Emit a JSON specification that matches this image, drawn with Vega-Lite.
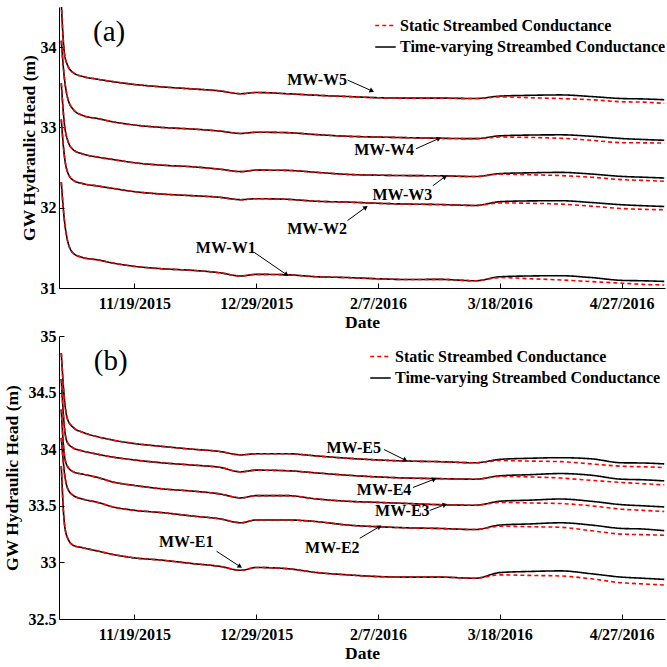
{
  "$schema": "https://vega.github.io/schema/vega-lite/v6.json",
  "padding": {"left": 3, "top": 7, "right": 0, "bottom": 0},
  "spacing": -3,
  "background": "white",
  "datasets": {
    "a": [
      {"w":"W5","d":"2015-10-26","T":34.55,"S":34.55},{"w":"W5","d":"2015-10-27","T":33.93,"S":33.93},{"w":"W5","d":"2015-10-28","T":33.78,"S":33.78},{"w":"W5","d":"2015-10-30","T":33.68,"S":33.68},{"w":"W5","d":"2015-11-02","T":33.635,"S":33.635},{"w":"W5","d":"2015-11-07","T":33.6,"S":33.6},{"w":"W5","d":"2015-11-12","T":33.57,"S":33.57},{"w":"W5","d":"2015-11-19","T":33.535,"S":33.535},{"w":"W5","d":"2015-11-28","T":33.505,"S":33.505},{"w":"W5","d":"2015-12-08","T":33.48,"S":33.48},{"w":"W5","d":"2015-12-17","T":33.455,"S":33.455},{"w":"W5","d":"2015-12-24","T":33.42,"S":33.42},{"w":"W5","d":"2015-12-29","T":33.435,"S":33.435},{"w":"W5","d":"2016-01-08","T":33.42,"S":33.42},{"w":"W5","d":"2016-01-18","T":33.4,"S":33.4},{"w":"W5","d":"2016-01-28","T":33.385,"S":33.385},{"w":"W5","d":"2016-02-07","T":33.37,"S":33.37},{"w":"W5","d":"2016-02-17","T":33.365,"S":33.365},{"w":"W5","d":"2016-02-27","T":33.365,"S":33.365},{"w":"W5","d":"2016-03-10","T":33.36,"S":33.36},{"w":"W5","d":"2016-03-18","T":33.39,"S":33.38},{"w":"W5","d":"2016-03-28","T":33.4,"S":33.37},{"w":"W5","d":"2016-04-07","T":33.405,"S":33.36},{"w":"W5","d":"2016-04-17","T":33.385,"S":33.345},{"w":"W5","d":"2016-04-27","T":33.36,"S":33.32},{"w":"W5","d":"2016-05-04","T":33.355,"S":33.315},{"w":"W5","d":"2016-05-11","T":33.345,"S":33.3},
      {"w":"W4","d":"2015-10-26","T":34.08,"S":34.08},{"w":"W4","d":"2015-10-27","T":33.62,"S":33.62},{"w":"W4","d":"2015-10-28","T":33.38,"S":33.38},{"w":"W4","d":"2015-10-30","T":33.22,"S":33.22},{"w":"W4","d":"2015-11-02","T":33.15,"S":33.15},{"w":"W4","d":"2015-11-07","T":33.11,"S":33.11},{"w":"W4","d":"2015-11-12","T":33.07,"S":33.07},{"w":"W4","d":"2015-11-19","T":33.03,"S":33.03},{"w":"W4","d":"2015-11-28","T":33.0,"S":33.0},{"w":"W4","d":"2015-12-08","T":32.98,"S":32.98},{"w":"W4","d":"2015-12-17","T":32.955,"S":32.955},{"w":"W4","d":"2015-12-24","T":32.925,"S":32.925},{"w":"W4","d":"2015-12-29","T":32.94,"S":32.94},{"w":"W4","d":"2016-01-08","T":32.935,"S":32.935},{"w":"W4","d":"2016-01-18","T":32.91,"S":32.91},{"w":"W4","d":"2016-01-28","T":32.89,"S":32.89},{"w":"W4","d":"2016-02-07","T":32.88,"S":32.88},{"w":"W4","d":"2016-02-17","T":32.872,"S":32.872},{"w":"W4","d":"2016-02-27","T":32.865,"S":32.865},{"w":"W4","d":"2016-03-10","T":32.86,"S":32.86},{"w":"W4","d":"2016-03-18","T":32.895,"S":32.88},{"w":"W4","d":"2016-03-28","T":32.905,"S":32.875},{"w":"W4","d":"2016-04-07","T":32.908,"S":32.865},{"w":"W4","d":"2016-04-17","T":32.89,"S":32.84},{"w":"W4","d":"2016-04-27","T":32.862,"S":32.81},{"w":"W4","d":"2016-05-04","T":32.85,"S":32.808},{"w":"W4","d":"2016-05-11","T":32.84,"S":32.805},
      {"w":"W3","d":"2015-10-26","T":33.55,"S":33.55},{"w":"W3","d":"2015-10-27","T":33.05,"S":33.05},{"w":"W3","d":"2015-10-28","T":32.85,"S":32.85},{"w":"W3","d":"2015-10-30","T":32.72,"S":32.72},{"w":"W3","d":"2015-11-02","T":32.67,"S":32.67},{"w":"W3","d":"2015-11-07","T":32.63,"S":32.63},{"w":"W3","d":"2015-11-12","T":32.6,"S":32.6},{"w":"W3","d":"2015-11-19","T":32.56,"S":32.56},{"w":"W3","d":"2015-11-28","T":32.53,"S":32.53},{"w":"W3","d":"2015-12-08","T":32.51,"S":32.51},{"w":"W3","d":"2015-12-17","T":32.48,"S":32.48},{"w":"W3","d":"2015-12-24","T":32.45,"S":32.45},{"w":"W3","d":"2015-12-29","T":32.468,"S":32.468},{"w":"W3","d":"2016-01-08","T":32.465,"S":32.465},{"w":"W3","d":"2016-01-18","T":32.44,"S":32.44},{"w":"W3","d":"2016-01-28","T":32.415,"S":32.415},{"w":"W3","d":"2016-02-07","T":32.405,"S":32.405},{"w":"W3","d":"2016-02-17","T":32.4,"S":32.4},{"w":"W3","d":"2016-02-27","T":32.398,"S":32.398},{"w":"W3","d":"2016-03-10","T":32.388,"S":32.388},{"w":"W3","d":"2016-03-18","T":32.425,"S":32.418},{"w":"W3","d":"2016-03-28","T":32.435,"S":32.41},{"w":"W3","d":"2016-04-07","T":32.44,"S":32.4},{"w":"W3","d":"2016-04-17","T":32.42,"S":32.38},{"w":"W3","d":"2016-04-27","T":32.39,"S":32.35},{"w":"W3","d":"2016-05-04","T":32.38,"S":32.34},{"w":"W3","d":"2016-05-11","T":32.37,"S":32.33},
      {"w":"W2","d":"2015-10-26","T":33.1,"S":33.1},{"w":"W2","d":"2015-10-27","T":32.65,"S":32.65},{"w":"W2","d":"2015-10-28","T":32.45,"S":32.45},{"w":"W2","d":"2015-10-30","T":32.34,"S":32.34},{"w":"W2","d":"2015-11-02","T":32.3,"S":32.3},{"w":"W2","d":"2015-11-07","T":32.27,"S":32.27},{"w":"W2","d":"2015-11-12","T":32.24,"S":32.24},{"w":"W2","d":"2015-11-19","T":32.2,"S":32.2},{"w":"W2","d":"2015-11-28","T":32.17,"S":32.17},{"w":"W2","d":"2015-12-08","T":32.15,"S":32.15},{"w":"W2","d":"2015-12-17","T":32.13,"S":32.13},{"w":"W2","d":"2015-12-24","T":32.1,"S":32.1},{"w":"W2","d":"2015-12-29","T":32.112,"S":32.112},{"w":"W2","d":"2016-01-08","T":32.105,"S":32.105},{"w":"W2","d":"2016-01-18","T":32.08,"S":32.08},{"w":"W2","d":"2016-01-28","T":32.07,"S":32.07},{"w":"W2","d":"2016-02-07","T":32.055,"S":32.055},{"w":"W2","d":"2016-02-17","T":32.045,"S":32.045},{"w":"W2","d":"2016-02-27","T":32.04,"S":32.04},{"w":"W2","d":"2016-03-10","T":32.028,"S":32.028},{"w":"W2","d":"2016-03-18","T":32.075,"S":32.06},{"w":"W2","d":"2016-03-28","T":32.085,"S":32.055},{"w":"W2","d":"2016-04-07","T":32.087,"S":32.045},{"w":"W2","d":"2016-04-17","T":32.065,"S":32.02},{"w":"W2","d":"2016-04-27","T":32.037,"S":31.99},{"w":"W2","d":"2016-05-04","T":32.025,"S":31.98},{"w":"W2","d":"2016-05-11","T":32.015,"S":31.975},
      {"w":"W1","d":"2015-10-26","T":32.32,"S":32.32},{"w":"W1","d":"2015-10-27","T":31.85,"S":31.85},{"w":"W1","d":"2015-10-28","T":31.6,"S":31.6},{"w":"W1","d":"2015-10-30","T":31.43,"S":31.43},{"w":"W1","d":"2015-11-02","T":31.38,"S":31.38},{"w":"W1","d":"2015-11-07","T":31.35,"S":31.35},{"w":"W1","d":"2015-11-12","T":31.31,"S":31.31},{"w":"W1","d":"2015-11-19","T":31.27,"S":31.27},{"w":"W1","d":"2015-11-28","T":31.24,"S":31.24},{"w":"W1","d":"2015-12-08","T":31.22,"S":31.22},{"w":"W1","d":"2015-12-17","T":31.19,"S":31.19},{"w":"W1","d":"2015-12-24","T":31.15,"S":31.15},{"w":"W1","d":"2015-12-29","T":31.17,"S":31.17},{"w":"W1","d":"2016-01-08","T":31.165,"S":31.165},{"w":"W1","d":"2016-01-18","T":31.14,"S":31.14},{"w":"W1","d":"2016-01-28","T":31.13,"S":31.13},{"w":"W1","d":"2016-02-07","T":31.115,"S":31.115},{"w":"W1","d":"2016-02-17","T":31.105,"S":31.105},{"w":"W1","d":"2016-02-27","T":31.108,"S":31.108},{"w":"W1","d":"2016-03-10","T":31.09,"S":31.09},{"w":"W1","d":"2016-03-18","T":31.14,"S":31.13},{"w":"W1","d":"2016-03-28","T":31.15,"S":31.115},{"w":"W1","d":"2016-04-07","T":31.153,"S":31.1},{"w":"W1","d":"2016-04-17","T":31.13,"S":31.08},{"w":"W1","d":"2016-04-27","T":31.095,"S":31.06},{"w":"W1","d":"2016-05-04","T":31.09,"S":31.045},{"w":"W1","d":"2016-05-11","T":31.082,"S":31.037}
    ],
    "b": [
      {"w":"E5","d":"2015-10-26","T":34.85,"S":34.85},{"w":"E5","d":"2015-10-27","T":34.45,"S":34.45},{"w":"E5","d":"2015-10-28","T":34.27,"S":34.27},{"w":"E5","d":"2015-10-30","T":34.19,"S":34.19},{"w":"E5","d":"2015-11-02","T":34.15,"S":34.15},{"w":"E5","d":"2015-11-07","T":34.11,"S":34.11},{"w":"E5","d":"2015-11-12","T":34.08,"S":34.08},{"w":"E5","d":"2015-11-19","T":34.05,"S":34.05},{"w":"E5","d":"2015-11-28","T":34.025,"S":34.025},{"w":"E5","d":"2015-12-08","T":34.0,"S":34.0},{"w":"E5","d":"2015-12-17","T":33.98,"S":33.98},{"w":"E5","d":"2015-12-24","T":33.95,"S":33.95},{"w":"E5","d":"2015-12-29","T":33.96,"S":33.96},{"w":"E5","d":"2016-01-08","T":33.96,"S":33.96},{"w":"E5","d":"2016-01-18","T":33.94,"S":33.94},{"w":"E5","d":"2016-01-28","T":33.92,"S":33.92},{"w":"E5","d":"2016-02-07","T":33.905,"S":33.905},{"w":"E5","d":"2016-02-17","T":33.895,"S":33.895},{"w":"E5","d":"2016-02-27","T":33.89,"S":33.89},{"w":"E5","d":"2016-03-10","T":33.88,"S":33.88},{"w":"E5","d":"2016-03-18","T":33.91,"S":33.9},{"w":"E5","d":"2016-03-28","T":33.92,"S":33.895},{"w":"E5","d":"2016-04-07","T":33.925,"S":33.89},{"w":"E5","d":"2016-04-17","T":33.915,"S":33.87},{"w":"E5","d":"2016-04-27","T":33.88,"S":33.85},{"w":"E5","d":"2016-05-04","T":33.878,"S":33.845},{"w":"E5","d":"2016-05-11","T":33.87,"S":33.838},
      {"w":"E4","d":"2015-10-26","T":34.62,"S":34.62},{"w":"E4","d":"2015-10-27","T":34.2,"S":34.2},{"w":"E4","d":"2015-10-28","T":34.06,"S":34.06},{"w":"E4","d":"2015-10-30","T":34.01,"S":34.01},{"w":"E4","d":"2015-11-02","T":33.985,"S":33.985},{"w":"E4","d":"2015-11-07","T":33.955,"S":33.955},{"w":"E4","d":"2015-11-12","T":33.93,"S":33.93},{"w":"E4","d":"2015-11-19","T":33.905,"S":33.905},{"w":"E4","d":"2015-11-28","T":33.88,"S":33.88},{"w":"E4","d":"2015-12-08","T":33.86,"S":33.86},{"w":"E4","d":"2015-12-17","T":33.84,"S":33.84},{"w":"E4","d":"2015-12-24","T":33.8,"S":33.8},{"w":"E4","d":"2015-12-29","T":33.815,"S":33.815},{"w":"E4","d":"2016-01-08","T":33.81,"S":33.81},{"w":"E4","d":"2016-01-18","T":33.79,"S":33.79},{"w":"E4","d":"2016-01-28","T":33.77,"S":33.77},{"w":"E4","d":"2016-02-07","T":33.755,"S":33.755},{"w":"E4","d":"2016-02-17","T":33.745,"S":33.745},{"w":"E4","d":"2016-02-27","T":33.74,"S":33.74},{"w":"E4","d":"2016-03-10","T":33.735,"S":33.735},{"w":"E4","d":"2016-03-18","T":33.765,"S":33.76},{"w":"E4","d":"2016-03-28","T":33.775,"S":33.755},{"w":"E4","d":"2016-04-07","T":33.785,"S":33.745},{"w":"E4","d":"2016-04-17","T":33.77,"S":33.725},{"w":"E4","d":"2016-04-27","T":33.735,"S":33.706},{"w":"E4","d":"2016-05-04","T":33.73,"S":33.695},{"w":"E4","d":"2016-05-11","T":33.72,"S":33.685},
      {"w":"E3","d":"2015-10-26","T":34.35,"S":34.35},{"w":"E3","d":"2015-10-27","T":33.95,"S":33.95},{"w":"E3","d":"2015-10-28","T":33.85,"S":33.85},{"w":"E3","d":"2015-10-30","T":33.8,"S":33.8},{"w":"E3","d":"2015-11-02","T":33.78,"S":33.78},{"w":"E3","d":"2015-11-07","T":33.75,"S":33.75},{"w":"E3","d":"2015-11-12","T":33.71,"S":33.71},{"w":"E3","d":"2015-11-19","T":33.68,"S":33.68},{"w":"E3","d":"2015-11-28","T":33.65,"S":33.65},{"w":"E3","d":"2015-12-08","T":33.63,"S":33.63},{"w":"E3","d":"2015-12-17","T":33.605,"S":33.605},{"w":"E3","d":"2015-12-24","T":33.57,"S":33.57},{"w":"E3","d":"2015-12-29","T":33.59,"S":33.59},{"w":"E3","d":"2016-01-08","T":33.59,"S":33.59},{"w":"E3","d":"2016-01-18","T":33.56,"S":33.56},{"w":"E3","d":"2016-01-28","T":33.54,"S":33.54},{"w":"E3","d":"2016-02-07","T":33.53,"S":33.53},{"w":"E3","d":"2016-02-17","T":33.52,"S":33.52},{"w":"E3","d":"2016-02-27","T":33.51,"S":33.51},{"w":"E3","d":"2016-03-10","T":33.505,"S":33.505},{"w":"E3","d":"2016-03-18","T":33.54,"S":33.53},{"w":"E3","d":"2016-03-28","T":33.55,"S":33.525},{"w":"E3","d":"2016-04-07","T":33.56,"S":33.52},{"w":"E3","d":"2016-04-17","T":33.54,"S":33.5},{"w":"E3","d":"2016-04-27","T":33.51,"S":33.47},{"w":"E3","d":"2016-05-04","T":33.5,"S":33.46},{"w":"E3","d":"2016-05-11","T":33.49,"S":33.45},
      {"w":"E2","d":"2015-10-26","T":34.1,"S":34.1},{"w":"E2","d":"2015-10-27","T":33.8,"S":33.8},{"w":"E2","d":"2015-10-28","T":33.66,"S":33.66},{"w":"E2","d":"2015-10-30","T":33.59,"S":33.59},{"w":"E2","d":"2015-11-02","T":33.56,"S":33.56},{"w":"E2","d":"2015-11-07","T":33.53,"S":33.53},{"w":"E2","d":"2015-11-12","T":33.49,"S":33.49},{"w":"E2","d":"2015-11-19","T":33.46,"S":33.46},{"w":"E2","d":"2015-11-28","T":33.44,"S":33.44},{"w":"E2","d":"2015-12-08","T":33.41,"S":33.41},{"w":"E2","d":"2015-12-17","T":33.385,"S":33.385},{"w":"E2","d":"2015-12-24","T":33.35,"S":33.35},{"w":"E2","d":"2015-12-29","T":33.375,"S":33.375},{"w":"E2","d":"2016-01-08","T":33.375,"S":33.375},{"w":"E2","d":"2016-01-18","T":33.36,"S":33.36},{"w":"E2","d":"2016-01-28","T":33.33,"S":33.33},{"w":"E2","d":"2016-02-07","T":33.315,"S":33.315},{"w":"E2","d":"2016-02-17","T":33.305,"S":33.305},{"w":"E2","d":"2016-02-27","T":33.3,"S":33.3},{"w":"E2","d":"2016-03-10","T":33.29,"S":33.29},{"w":"E2","d":"2016-03-18","T":33.33,"S":33.32},{"w":"E2","d":"2016-03-28","T":33.34,"S":33.315},{"w":"E2","d":"2016-04-07","T":33.35,"S":33.31},{"w":"E2","d":"2016-04-17","T":33.33,"S":33.28},{"w":"E2","d":"2016-04-27","T":33.3,"S":33.25},{"w":"E2","d":"2016-05-04","T":33.295,"S":33.245},{"w":"E2","d":"2016-05-11","T":33.28,"S":33.24},
      {"w":"E1","d":"2015-10-26","T":33.85,"S":33.85},{"w":"E1","d":"2015-10-27","T":33.35,"S":33.35},{"w":"E1","d":"2015-10-28","T":33.22,"S":33.22},{"w":"E1","d":"2015-10-30","T":33.15,"S":33.15},{"w":"E1","d":"2015-11-02","T":33.13,"S":33.13},{"w":"E1","d":"2015-11-07","T":33.1,"S":33.1},{"w":"E1","d":"2015-11-12","T":33.07,"S":33.07},{"w":"E1","d":"2015-11-19","T":33.04,"S":33.04},{"w":"E1","d":"2015-11-28","T":33.02,"S":33.02},{"w":"E1","d":"2015-12-08","T":32.99,"S":32.99},{"w":"E1","d":"2015-12-17","T":32.965,"S":32.965},{"w":"E1","d":"2015-12-24","T":32.93,"S":32.93},{"w":"E1","d":"2015-12-29","T":32.955,"S":32.955},{"w":"E1","d":"2016-01-08","T":32.945,"S":32.945},{"w":"E1","d":"2016-01-18","T":32.91,"S":32.91},{"w":"E1","d":"2016-01-28","T":32.89,"S":32.89},{"w":"E1","d":"2016-02-07","T":32.875,"S":32.875},{"w":"E1","d":"2016-02-17","T":32.87,"S":32.87},{"w":"E1","d":"2016-02-27","T":32.87,"S":32.87},{"w":"E1","d":"2016-03-10","T":32.86,"S":32.86},{"w":"E1","d":"2016-03-18","T":32.91,"S":32.89},{"w":"E1","d":"2016-03-28","T":32.92,"S":32.885},{"w":"E1","d":"2016-04-07","T":32.925,"S":32.88},{"w":"E1","d":"2016-04-17","T":32.9,"S":32.855},{"w":"E1","d":"2016-04-27","T":32.87,"S":32.82},{"w":"E1","d":"2016-05-04","T":32.86,"S":32.81},{"w":"E1","d":"2016-05-11","T":32.85,"S":32.8}
    ],
    "annA": [
      {"lab":"MW-W5","tx":"2016-01-18","ty":33.59,"x1":"2016-01-28","y1":33.59,"x2":"2016-02-05","y2":33.455,"ang":114},
      {"lab":"MW-W4","tx":"2016-02-09","ty":32.72,"x1":"2016-02-19T12:00:00Z","y1":32.735,"x2":"2016-02-27","y2":32.862,"ang":65},
      {"lab":"MW-W3","tx":"2016-02-15","ty":32.16,"x1":"2016-02-25","y1":32.273,"x2":"2016-02-29","y2":32.386,"ang":55},
      {"lab":"MW-W2","tx":"2016-01-18","ty":31.73,"x1":"2016-01-28","y1":31.84,"x2":"2016-02-03","y2":32.006,"ang":55},
      {"lab":"MW-W1","tx":"2015-12-19","ty":31.495,"x1":"2015-12-28T12:00:00Z","y1":31.44,"x2":"2016-01-08","y2":31.166,"ang":125}
    ],
    "annB": [
      {"lab":"MW-E5","tx":"2016-01-30","ty":34.01,"x1":"2016-02-09","y1":33.997,"x2":"2016-02-16","y2":33.903,"ang":115},
      {"lab":"MW-E4","tx":"2016-02-09","ty":33.638,"x1":"2016-02-18T12:00:00Z","y1":33.662,"x2":"2016-02-25T12:00:00Z","y2":33.735,"ang":68},
      {"lab":"MW-E3","tx":"2016-02-15","ty":33.457,"x1":"2016-02-24","y1":33.459,"x2":"2016-02-29","y2":33.51,"ang":72},
      {"lab":"MW-E2","tx":"2016-01-23","ty":33.127,"x1":"2016-02-01","y1":33.213,"x2":"2016-02-07T12:00:00Z","y2":33.316,"ang":60},
      {"lab":"MW-E1","tx":"2015-12-06","ty":33.177,"x1":"2015-12-16","y1":33.098,"x2":"2015-12-23T17:00:00Z","y2":32.963,"ang":122}
    ]
  },
  "vconcat": [
    {
      "width": 606,
      "height": 281,
      "layer": [
        {
          "data": {"name": "a"},
          "mark": {"type": "line", "strokeWidth": 1.6, "interpolate": "monotone", "clip": true},
          "encoding": {
            "x": {"field": "d", "type": "temporal", "title": "Date", "scale": {"type": "utc", "domain": [{"year": 2015, "month": 10, "date": 25, "hours": 6, "utc": true}, {"year": 2016, "month": 5, "date": 11, "hours": 6, "utc": true}]}, "axis": {"values": [{"year": 2015, "month": 11, "date": 19, "utc": true}, {"year": 2015, "month": 12, "date": 29, "utc": true}, {"year": 2016, "month": 2, "date": 7, "utc": true}, {"year": 2016, "month": 3, "date": 18, "utc": true}, {"year": 2016, "month": 4, "date": 27, "utc": true}], "format": "%-m/%-d/%Y"}},
            "y": {"field": "T", "type": "quantitative", "title": "GW Hydraulic Head (m)", "scale": {"domain": [31, 34.5], "nice": false, "zero": false}, "axis": {"values": [31, 32, 33, 34], "format": "~g", "titlePadding": 2}},
            "detail": {"field": "w"},
            "color": {"datum": "Time-varying Streambed Conductance", "scale": {"domain": ["Static Streambed Conductance", "Time-varying Streambed Conductance"], "range": ["#ff0000", "#000000"]}, "legend": {"orient": "none", "legendX": 315, "legendY": 7, "title": null}},
            "strokeDash": {"datum": "Time-varying Streambed Conductance", "scale": {"domain": ["Static Streambed Conductance", "Time-varying Streambed Conductance"], "range": [[4, 3], [1, 0]]}, "legend": {"orient": "none", "legendX": 315, "legendY": 7, "title": null}}
          }
        },
        {
          "data": {"name": "a"},
          "mark": {"type": "line", "strokeWidth": 1.6, "interpolate": "monotone", "clip": true},
          "encoding": {
            "x": {"field": "d", "type": "temporal", "title": "Date"},
            "y": {"field": "S", "type": "quantitative", "title": "GW Hydraulic Head (m)"},
            "detail": {"field": "w"},
            "color": {"datum": "Static Streambed Conductance"},
            "strokeDash": {"datum": "Static Streambed Conductance"}
          }
        },
        {
          "data": {"name": "annA"},
          "mark": {"type": "rule", "color": "black", "strokeWidth": 1},
          "encoding": {
            "x": {"field": "x1", "type": "temporal", "title": "Date"},
            "y": {"field": "y1", "type": "quantitative", "title": "GW Hydraulic Head (m)"},
            "x2": {"field": "x2"},
            "y2": {"field": "y2"}
          }
        },
        {
          "data": {"name": "annA"},
          "mark": {"type": "point", "shape": "triangle-up", "filled": true, "color": "black", "size": 28, "opacity": 1},
          "encoding": {
            "x": {"field": "x2", "type": "temporal", "title": "Date"},
            "y": {"field": "y2", "type": "quantitative", "title": "GW Hydraulic Head (m)"},
            "angle": {"field": "ang", "type": "quantitative", "scale": null}
          }
        },
        {
          "data": {"name": "annA"},
          "mark": {"type": "text", "font": "Liberation Serif, Times New Roman, serif", "fontSize": 16, "fontWeight": "bold", "color": "black", "align": "center", "baseline": "middle"},
          "encoding": {
            "x": {"field": "tx", "type": "temporal", "title": "Date"},
            "y": {"field": "ty", "type": "quantitative", "title": "GW Hydraulic Head (m)"},
            "text": {"field": "lab"}
          }
        },
        {
          "data": {"values": [{"lab": "(a)"}]},
          "mark": {"type": "text", "font": "Liberation Serif, Times New Roman, serif", "fontSize": 29, "color": "black", "align": "center", "baseline": "middle"},
          "encoding": {
            "x": {"datum": {"year": 2015, "month": 11, "date": 10, "hours": 17, "utc": true}, "type": "temporal"},
            "y": {"datum": 34.19, "type": "quantitative"},
            "text": {"field": "lab"}
          }
        }
      ]
    },
    {
      "width": 606,
      "height": 283,
      "layer": [
        {
          "data": {"name": "b"},
          "mark": {"type": "line", "strokeWidth": 1.6, "interpolate": "monotone", "clip": true},
          "encoding": {
            "x": {"field": "d", "type": "temporal", "title": "Date", "scale": {"type": "utc", "domain": [{"year": 2015, "month": 10, "date": 25, "hours": 6, "utc": true}, {"year": 2016, "month": 5, "date": 11, "hours": 6, "utc": true}]}, "axis": {"values": [{"year": 2015, "month": 11, "date": 19, "utc": true}, {"year": 2015, "month": 12, "date": 29, "utc": true}, {"year": 2016, "month": 2, "date": 7, "utc": true}, {"year": 2016, "month": 3, "date": 18, "utc": true}, {"year": 2016, "month": 4, "date": 27, "utc": true}], "format": "%-m/%-d/%Y"}},
            "y": {"field": "T", "type": "quantitative", "title": "GW Hydraulic Head (m)", "scale": {"domain": [32.5, 35], "nice": false, "zero": false}, "axis": {"values": [32.5, 33, 33.5, 34, 34.5, 35], "format": "~g"}},
            "detail": {"field": "w"},
            "color": {"datum": "Time-varying Streambed Conductance", "scale": {"domain": ["Static Streambed Conductance", "Time-varying Streambed Conductance"], "range": ["#ff0000", "#000000"]}, "legend": {"orient": "none", "legendX": 310, "legendY": 9, "title": null}},
            "strokeDash": {"datum": "Time-varying Streambed Conductance", "scale": {"domain": ["Static Streambed Conductance", "Time-varying Streambed Conductance"], "range": [[4, 3], [1, 0]]}, "legend": {"orient": "none", "legendX": 310, "legendY": 9, "title": null}}
          }
        },
        {
          "data": {"name": "b"},
          "mark": {"type": "line", "strokeWidth": 1.6, "interpolate": "monotone", "clip": true},
          "encoding": {
            "x": {"field": "d", "type": "temporal", "title": "Date"},
            "y": {"field": "S", "type": "quantitative", "title": "GW Hydraulic Head (m)"},
            "detail": {"field": "w"},
            "color": {"datum": "Static Streambed Conductance"},
            "strokeDash": {"datum": "Static Streambed Conductance"}
          }
        },
        {
          "data": {"name": "annB"},
          "mark": {"type": "rule", "color": "black", "strokeWidth": 1},
          "encoding": {
            "x": {"field": "x1", "type": "temporal", "title": "Date"},
            "y": {"field": "y1", "type": "quantitative", "title": "GW Hydraulic Head (m)"},
            "x2": {"field": "x2"},
            "y2": {"field": "y2"}
          }
        },
        {
          "data": {"name": "annB"},
          "mark": {"type": "point", "shape": "triangle-up", "filled": true, "color": "black", "size": 28, "opacity": 1},
          "encoding": {
            "x": {"field": "x2", "type": "temporal", "title": "Date"},
            "y": {"field": "y2", "type": "quantitative", "title": "GW Hydraulic Head (m)"},
            "angle": {"field": "ang", "type": "quantitative", "scale": null}
          }
        },
        {
          "data": {"name": "annB"},
          "mark": {"type": "text", "font": "Liberation Serif, Times New Roman, serif", "fontSize": 16, "fontWeight": "bold", "color": "black", "align": "center", "baseline": "middle"},
          "encoding": {
            "x": {"field": "tx", "type": "temporal", "title": "Date"},
            "y": {"field": "ty", "type": "quantitative", "title": "GW Hydraulic Head (m)"},
            "text": {"field": "lab"}
          }
        },
        {
          "data": {"values": [{"lab": "(b)"}]},
          "mark": {"type": "text", "font": "Liberation Serif, Times New Roman, serif", "fontSize": 29, "color": "black", "align": "center", "baseline": "middle"},
          "encoding": {
            "x": {"datum": {"year": 2015, "month": 11, "date": 11, "hours": 5, "utc": true}, "type": "temporal"},
            "y": {"datum": 34.78, "type": "quantitative"},
            "text": {"field": "lab"}
          }
        }
      ]
    }
  ],
  "resolve": {
    "scale": {"y": "independent", "x": "independent", "color": "independent", "strokeDash": "independent"},
    "legend": {"color": "independent", "strokeDash": "independent"}
  },
  "config": {
    "view": {"stroke": null},
    "axis": {
      "grid": false,
      "domainColor": "black",
      "domainWidth": 1,
      "tickColor": "black",
      "tickWidth": 1,
      "tickSize": -5,
      "labelFont": "Liberation Serif, Times New Roman, serif",
      "labelFontSize": 16,
      "labelFontWeight": "bold",
      "labelColor": "black",
      "titleFont": "Liberation Serif, Times New Roman, serif",
      "titleFontSize": 17.5,
      "titleFontWeight": "bold",
      "titleColor": "black"
    },
    "axisY": {"titlePadding": 7, "labelPadding": 8},
    "axisX": {"titlePadding": 2, "labelPadding": 12, "labelFlush": false, "labelOverlap": false},
    "legend": {
      "padding": 0,
      "labelFont": "Liberation Serif, Times New Roman, serif",
      "labelFontSize": 16,
      "labelFontWeight": "bold",
      "labelColor": "black",
      "labelLimit": 400,
      "labelOffset": 3,
      "symbolType": "stroke",
      "symbolSize": 420,
      "symbolStrokeWidth": 1.6,
      "rowPadding": 1.5
    }
  }
}
